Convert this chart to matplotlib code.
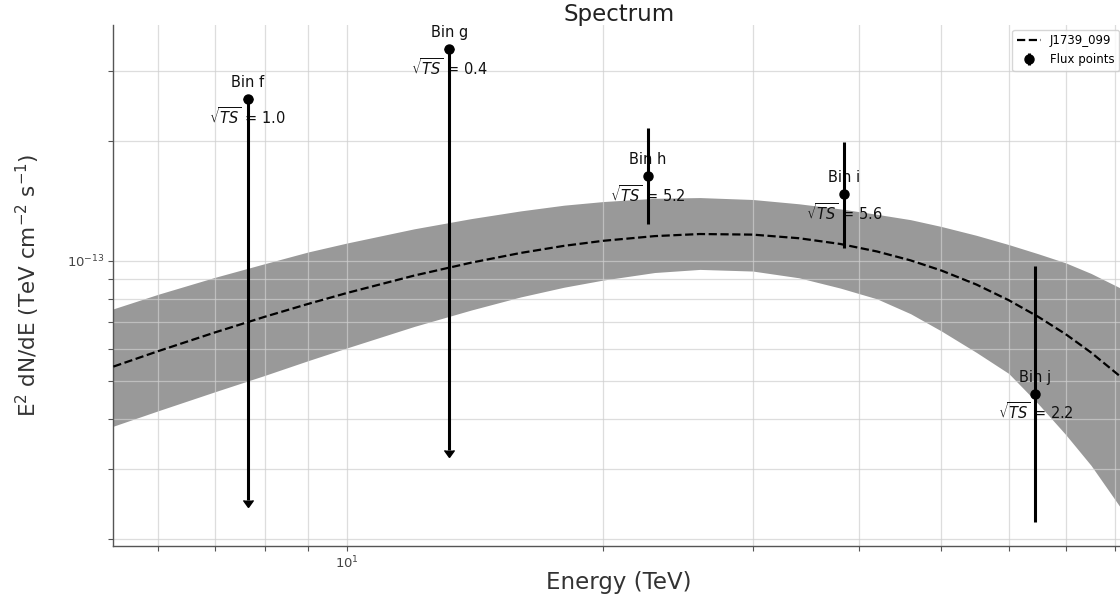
import numpy as np
import matplotlib
matplotlib.use("Agg")
import matplotlib.pyplot as plt
from matplotlib.ticker import NullFormatter, FixedLocator

plt.rcParams["font.family"] = ["DejaVu Sans"]

# ---------------- data ----------------
# Model curve (E^2 dN/dE, dashed) and its error band, sampled at these energies [TeV]
model_energy = [5.31, 6, 7, 8, 9, 10, 12, 14, 16, 18, 20, 23, 26, 30, 34,
                38, 42, 46, 50, 55, 60, 65, 70, 75, 82]
model_flux = [5.42e-14, 5.93e-14, 6.61e-14, 7.23e-14, 7.79e-14, 8.30e-14,
              9.18e-14, 9.89e-14, 1.046e-13, 1.090e-13, 1.122e-13, 1.153e-13,
              1.167e-13, 1.163e-13, 1.139e-13, 1.102e-13, 1.055e-13,
              1.002e-13, 9.45e-14, 8.71e-14, 7.96e-14, 7.23e-14, 6.54e-14,
              5.88e-14, 5.03e-14]
band_upper = [7.57e-14, 8.24e-14, 9.09e-14, 9.83e-14, 1.052e-13, 1.108e-13,
              1.203e-13, 1.276e-13, 1.334e-13, 1.379e-13, 1.408e-13, 1.435e-13,
              1.441e-13, 1.425e-13, 1.390e-13, 1.350e-13, 1.308e-13,
              1.268e-13, 1.219e-13, 1.158e-13, 1.098e-13, 1.041e-13, 9.88e-14,
              9.29e-14, 8.45e-14]
band_lower = [3.84e-14, 4.20e-14, 4.69e-14, 5.15e-14, 5.61e-14, 6.04e-14,
              6.84e-14, 7.52e-14, 8.11e-14, 8.58e-14, 8.94e-14, 9.34e-14,
              9.51e-14, 9.42e-14, 9.06e-14, 8.54e-14, 8.02e-14, 7.36e-14,
              6.66e-14, 5.88e-14, 5.21e-14, 4.37e-14, 3.66e-14, 3.06e-14,
              2.33e-14]

# Flux points
bin_names = ["Bin f", "Bin g", "Bin h", "Bin i", "Bin j"]
point_energy = [7.64, 13.19, 22.6, 38.4, 64.5]
point_flux = [2.55e-13, 3.40e-13, 1.633e-13, 1.471e-13, 4.63e-14]
point_low = [2.5e-14, 3.35e-14, 1.236e-13, 1.078e-13, 2.21e-14]
point_high = [2.55e-13, 3.40e-13, 2.15e-13, 1.99e-13, 9.7e-14]
is_upper_limit = [True, True, False, False, False]
sqrt_ts = [1.0, 0.4, 5.2, 5.6, 2.2]

x_major_ticks = [10]
y_major_ticks = [1e-13]

model_label = "J1739_099"
points_label = "Flux points"

# ---------------- figure ----------------
fig = plt.figure(figsize=(11.2, 5.94), dpi=100)
ax = fig.add_axes([0.1012, 0.0808, 0.9024, 0.8771])
ax.set_xscale("log")
ax.set_yscale("log")
ax.set_xlim(5.31, 82)
ax.set_ylim(1.92e-14, 3.91e-13)

ax.fill_between(model_energy, band_lower, band_upper, color="#999999",
                linewidth=0, zorder=1)
ax.plot(model_energy, model_flux, color="black", linestyle="--", lw=1.6,
        label=model_label, zorder=3)

e = np.array(point_energy)
pf = np.array(point_flux)
lo = np.array(point_low)
hi = np.array(point_high)
ul = np.array(is_upper_limit)

# upper limits: marker with downward arrow
ax.errorbar(e[ul], pf[ul], yerr=[pf[ul] - lo[ul], np.zeros(ul.sum())],
            uplims=True, fmt="o", color="black", ms=6.5, elinewidth=2.2,
            capsize=3.5, zorder=4)
# detections: plain error bars without caps
ax.errorbar(e[~ul], pf[~ul], yerr=[pf[~ul] - lo[~ul], hi[~ul] - pf[~ul]],
            fmt="o", color="black", ms=6.5, elinewidth=2.2, capsize=0,
            label=points_label, zorder=4)

for name, x, f, ts in zip(bin_names, point_energy, point_flux, sqrt_ts):
    ax.annotate(name, (x, f), xytext=(0, 12), textcoords="offset points",
                ha="center", va="center", fontsize=10.5, color="#111111",
                zorder=2)
    ax.annotate(r"$\sqrt{TS}$ = %.1f" % ts, (x, f), xytext=(0, -13),
                textcoords="offset points", ha="center", va="center",
                fontsize=10.5, color="#111111", zorder=2)

# grid / spines / ticks
ax.xaxis.set_major_locator(FixedLocator(x_major_ticks))
ax.yaxis.set_major_locator(FixedLocator(y_major_ticks))
ax.grid(True, which="both", color="#cfcfcf", alpha=0.7, lw=0.9)
ax.set_axisbelow("line")
for s in ["top", "right"]:
    ax.spines[s].set_visible(False)
for s in ["left", "bottom"]:
    ax.spines[s].set_color("#555555")
    ax.spines[s].set_linewidth(1.0)
ax.xaxis.set_minor_formatter(NullFormatter())
ax.yaxis.set_minor_formatter(NullFormatter())
ax.tick_params(which="both", colors="#555555", labelcolor="#444444",
               labelsize=9.5, length=3.5, width=0.8, pad=2.5)
ax.tick_params(which="minor", labelleft=False, labelbottom=False)

ax.set_title("Spectrum", fontsize=16.5, pad=3, color="#222222")
ax.set_xlabel("Energy (TeV)", fontsize=16.5, color="#333333", labelpad=0)
ax.set_ylabel(r"E$^2$ dN/dE (TeV cm$^{-2}$ s$^{-1}$)", fontsize=15.5,
              color="#333333", labelpad=18)

leg = ax.legend(loc="upper right", fontsize=8.5, borderaxespad=0.4,
                framealpha=0.8, edgecolor="#cccccc")

fig.savefig("out.png", dpi=100)
